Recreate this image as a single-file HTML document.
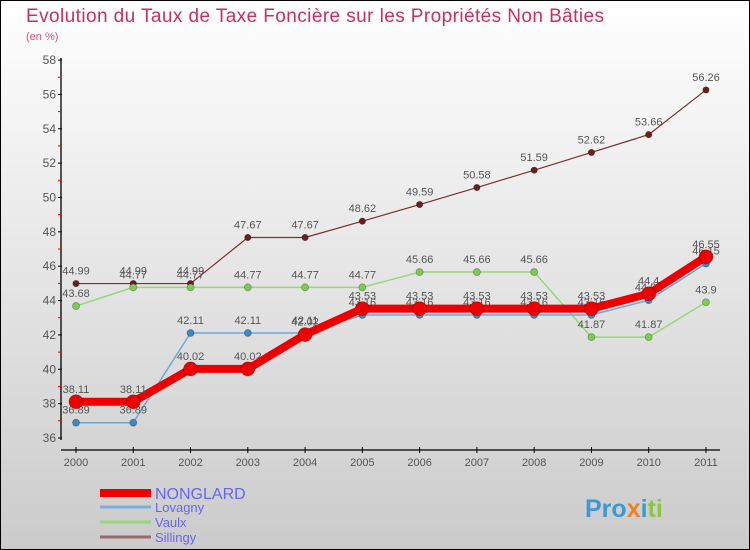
<!DOCTYPE html>
<html><head><meta charset="utf-8"><style>
body{margin:0;}
#c{width:750px;height:550px;position:relative;overflow:hidden;}
svg text{font-family:"Liberation Sans",sans-serif;}
</style></head><body>
<div id="c">
<svg id="s" width="750" height="550" xmlns="http://www.w3.org/2000/svg">
<defs><linearGradient id="bg" x1="0" y1="0" x2="0" y2="1"><stop offset="0" stop-color="#ffffff"/><stop offset="1" stop-color="#cbcbcb"/></linearGradient></defs>
<rect x="0.5" y="0.5" width="749" height="549" fill="url(#bg)" stroke="#000"/>
<text x="26" y="22" font-size="19" fill="#c8305e" textLength="578">Evolution du Taux de Taxe Foncière sur les Propriétés Non Bâties</text>
<text x="26" y="40" font-size="11" fill="#d05080">(en %)</text>
<g id="axes"></g><g id="series"></g><g id="legend"></g>
<text x="585" y="517" font-size="25" font-weight="bold" fill="#3a9ad9">Pro<tspan fill="#f08020">x</tspan><tspan fill="#3a9ad9">i</tspan><tspan fill="#8cc63f">ti</tspan></text>
</svg></div>
<script>
const years=["2000","2001","2002","2003","2004","2005","2006","2007","2008","2009","2010","2011"];
const yTicks=[36,38,40,42,44,46,48,50,52,54,56,58];
const nonglard=[38.11,38.11,40.02,40.02,42.02,43.53,43.53,43.53,43.53,43.53,44.4,46.55];
const lovagny=[36.89,36.89,42.11,42.11,42.11,43.16,43.16,43.16,43.16,43.16,44.02,46.15];
const vaulx=[43.68,44.77,44.77,44.77,44.77,44.77,45.66,45.66,45.66,41.87,41.87,43.9];
const sillingy=[44.99,44.99,44.99,47.67,47.67,48.62,49.59,50.58,51.59,52.62,53.66,56.26];
const NS="http://www.w3.org/2000/svg";
const X=i=>76+i*57.27;
const Y=v=>438-(v-36)*17.18;
function mk(t,a,p){const e=document.createElementNS(NS,t);for(const k in a)e.setAttribute(k,a[k]);p.appendChild(e);return e;}
const ax=document.getElementById('axes');
let l=mk('line',{x1:61,y1:58,x2:61,y2:440,stroke:'#000','stroke-width':1.3},ax);


l=mk('line',{x1:61,y1:450,x2:720,y2:450,stroke:'#000','stroke-width':1.3},ax);


yTicks.forEach((v,i)=>{
  mk('line',{x1:58,x2:62,y1:Y(v),y2:Y(v),stroke:'#000'},ax);
  if(i<yTicks.length-1)mk('line',{x1:58,x2:61,y1:Y(v+1),y2:Y(v+1),stroke:'#e00'},ax);
  const t=mk('text',{x:56,y:Y(v)+4,'font-size':12,fill:'#555','text-anchor':'end'},ax);
  t.textContent=v;
  
  
});
years.forEach((y,i)=>{
  mk('line',{x1:X(i),x2:X(i),y1:447,y2:453,stroke:'#000'},ax);
  const t=mk('text',{x:X(i),y:466,'font-size':11,fill:'#555','text-anchor':'middle'},ax);
  t.textContent=y;
  
  
});
const sg=document.getElementById('series');
function draw(data,color,w,r,dot,name){
  const g=mk('g',{},sg);
  
  
  const p=mk('polyline',{points:data.map((v,i)=>X(i)+','+Y(v)).join(' '),fill:'none',stroke:color,'stroke-width':w,'stroke-linejoin':'round'},g);
  
  
  data.forEach((v,i)=>{
    const c=mk('circle',{cx:X(i),cy:Y(v),r:r,fill:dot,stroke:'rgba(0,0,0,0.3)','stroke-width':0.8},g);
    
    
    const t=mk('text',{x:X(i),y:Y(v)-9,'font-size':11,fill:'#555','text-anchor':'middle'},g);
    t.textContent=v;
    
    
  });
}
draw(sillingy,'#7a3030',1.2,3.2,'#6a1e1e','sillingy');
draw(vaulx,'#99d677',1.5,3.5,'#7ccc50','vaulx');
draw(lovagny,'#6fa8d8',1.5,3.5,'#3a88c8','lovagny');
draw(nonglard,'#ee0000',8,7,'#ee0000','nonglard');
const lg=document.getElementById('legend');
const leg=[["NONGLARD","#ee0000",8,16],["Lovagny","#7ab0d8",3,13],["Vaulx","#99d677",3,13],["Sillingy","#9a6a6a",3,13]];
const ly=[493,507,522,537];
leg.forEach((e,i)=>{
  const r=mk('rect',{x:100,y:ly[i]-e[2]/2,width:51,height:e[2],fill:e[1]},lg);
  
  
  const t=mk('text',{x:155,y:ly[i]+e[3]*0.38,'font-size':e[3],fill:'#6666ee'},lg);
  t.textContent=e[0];
  
  
});
</script>
</body></html>
